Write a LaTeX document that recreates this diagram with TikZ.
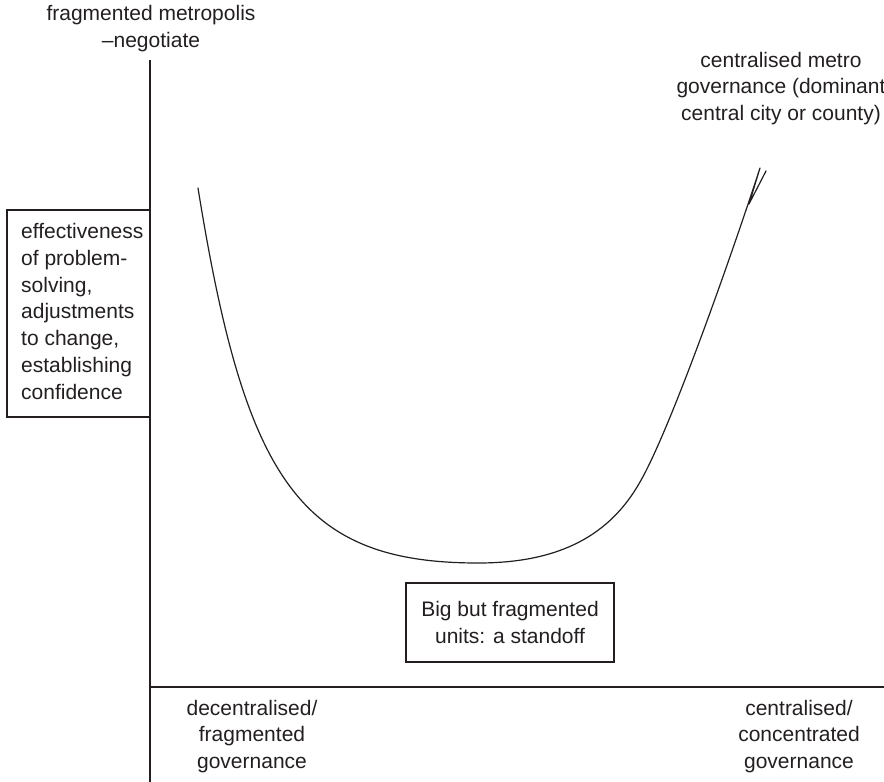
\documentclass[tikz,border=0pt]{standalone}
\usepackage{fontspec}
\setmainfont{Liberation Sans}
\definecolor{ink}{RGB}{35,31,32}
\begin{document}
\begin{tikzpicture}[x=1pt,y=-1pt,
  lbl/.style={inner sep=0pt, align=center, text=ink, font=\fontsize{21}{26.5}\selectfont},
  axisline/.style={draw=ink, line width=1.3pt},
  curveline/.style={draw=ink, line width=1.2pt, line join=round, line cap=round},
  boxed/.style={draw=ink, line width=1.1pt}]
\useasboundingbox (0,0) rectangle (884,782);
% axes
\coordinate (ytop) at (150,60);
\coordinate (ybot) at (150,782);
\coordinate (xleft) at (150,687);
\coordinate (xright) at (884,687);
\draw[axisline] (ytop) -- (ybot);
\draw[axisline] (xleft) -- (xright);
% top labels (anchor = baseline of last line)
\node[lbl, anchor=base] (frag) at (151,47) {fragmented metropolis\\–negotiate};
\node[lbl, anchor=base] (cent) at (781,120) {centralised metro\\governance (dominant\\central city or county)};
% left box
\draw[boxed] (7,210) rectangle (150,417);
\node[lbl, anchor=base west, align=left, font=\fontsize{21}{26.7}\selectfont] (eff) at (21,399)
  {effectiveness\\of problem-\\solving,\\adjustments\\to change,\\establishing\\confidence};
% bottom box
\node[lbl, boxed, minimum width=208pt, minimum height=79pt] (standoff) at (510,622.5)
  {Big but fragmented\\units: a standoff};
% bottom axis labels
\node[lbl, anchor=base] (decent) at (252,768) {decentralised/\\fragmented\\governance};
\node[lbl, anchor=base] (centgov) at (799,768) {centralised/\\concentrated\\governance};
% curve
\coordinate (cstart) at (198,188);
\coordinate (cmin) at (478,563);
\coordinate (cmid) at (640,482);
\coordinate (cend) at (760,168);
\draw[curveline] (cstart) .. controls (245,480) and (300,563) .. (cmin)
  .. controls (560,563) and (610,535) .. (cmid)
  .. controls (670,430) and (730,260) .. (cend)
  -- (749,204) -- (766,171);
\end{tikzpicture}
\end{document}
